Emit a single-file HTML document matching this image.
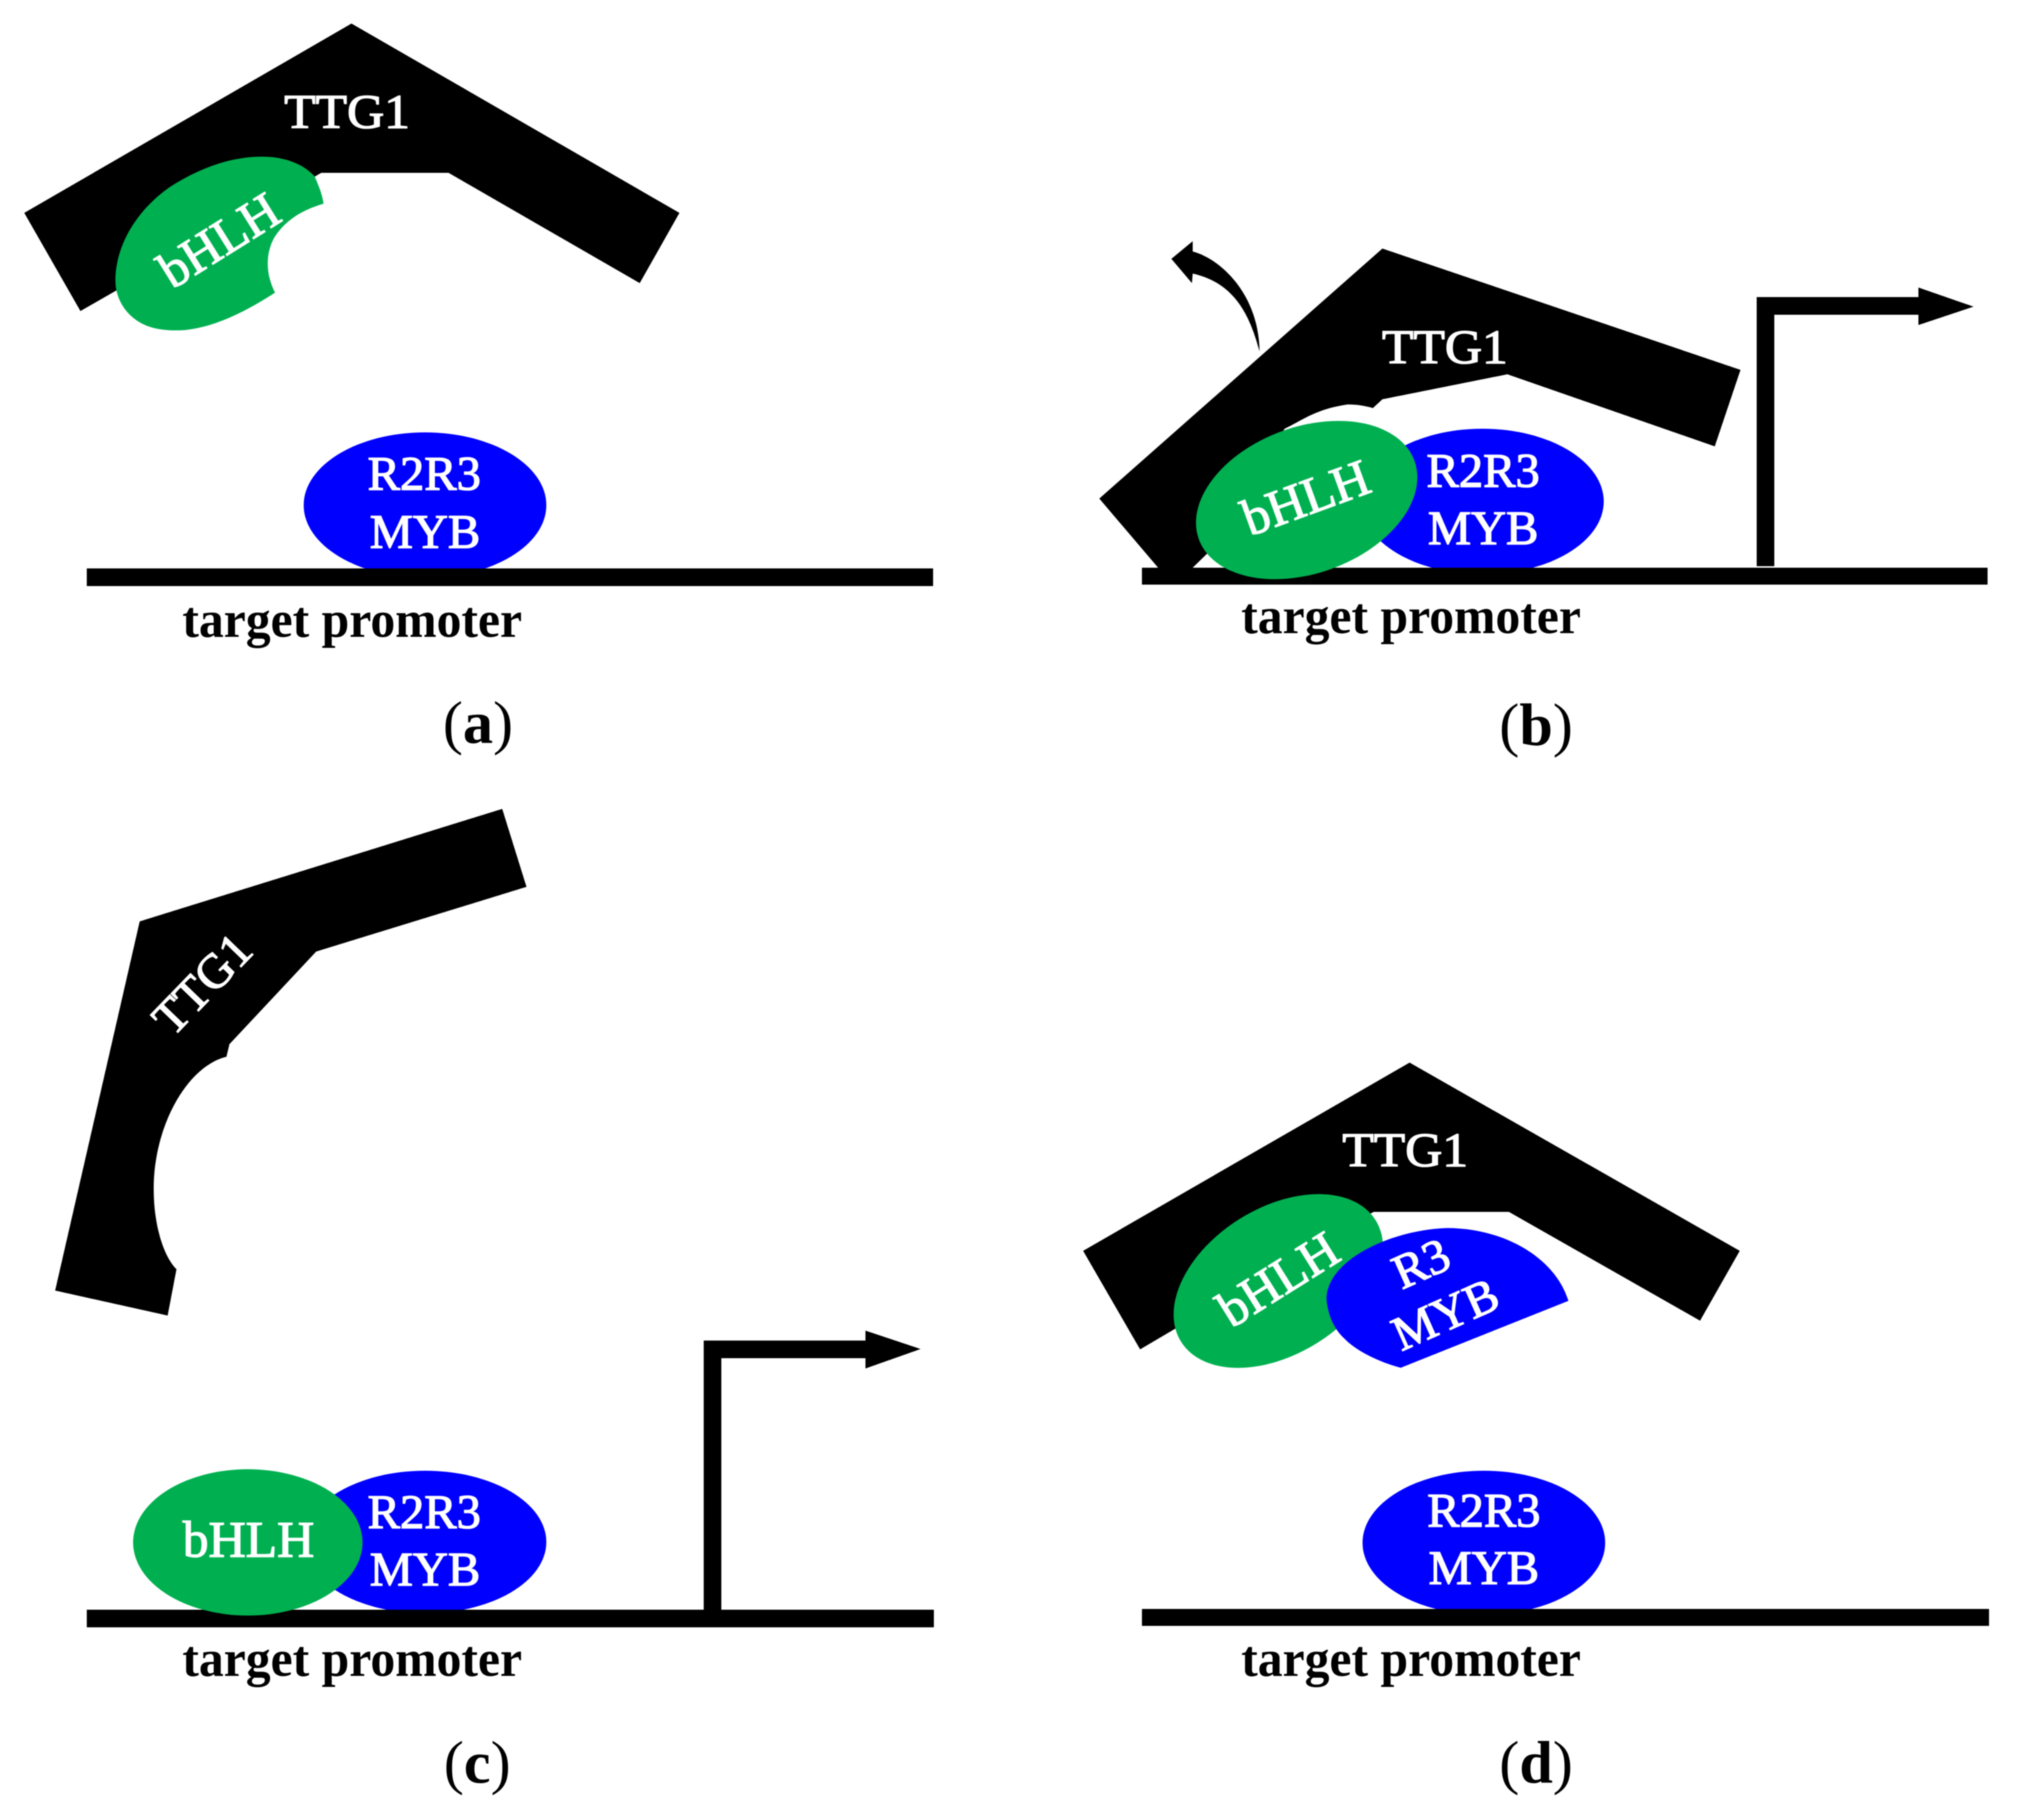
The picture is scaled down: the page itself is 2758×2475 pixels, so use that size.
<!DOCTYPE html>
<html>
<head>
<meta charset="utf-8">
<style>
html,body{margin:0;padding:0;background:#fff;width:2758px;height:2475px;overflow:hidden}
svg{display:block;filter:blur(0.7px)}
text{font-family:"Liberation Serif",serif}
.w{fill:#fff;stroke:#fff;stroke-width:1.6;text-anchor:middle}
.s{font-size:66px}
.m{font-size:66px}
.h{font-size:70px}
.t{font-size:70px;font-weight:bold;fill:#000;stroke:none}
.l{font-size:82px;fill:#000;text-anchor:middle}
.l tspan{font-weight:bold}
</style>
</head>
<body>
<svg width="2758" height="2475" viewBox="0 0 2758 2475" xmlns="http://www.w3.org/2000/svg">
<rect width="2758" height="2475" fill="#fff"/>

<!-- (a) -->
<polygon points="478,32 33,289.5 109.4,423 437,235 610,235 870,385 924,289.5" fill="#000"/>
<path d="M428,240 C412,222 385,213 357,213 C305,213 262,235 233,253 C190,282 157,330 157,382 C157,405 170,428 193,440 C210,449 232,450 250,449 C295,445 340,420 374,398 C361,372 361,345 373,323 C389,298 413,285 440,277 C438,263 433,252 428,240Z" fill="#00B050"/>
<ellipse cx="578" cy="687" rx="165" ry="99" fill="#0000FF"/>
<rect x="118" y="773" width="1151" height="24" fill="#000"/>
<text class="w s" x="472" y="174" textLength="171" lengthAdjust="spacingAndGlyphs">TTG1</text>
<text class="w h" transform="translate(298,327) rotate(-32)" y="23">bHLH</text>
<text class="w s" x="577" y="666">R2R3</text>
<text class="w s" x="578" y="745">MYB</text>
<text class="t" x="248" y="866" textLength="462" lengthAdjust="spacingAndGlyphs">target promoter</text>
<text class="l" x="650" y="1010">(<tspan>a</tspan>)</text>

<!-- (b) -->
<path d="M1593,352 L1622,328 L1622,342 C1660,352 1712,400 1713,478 C1700,430 1680,385 1622,372 L1621,385 Z" fill="#000"/>
<path d="M1880,338 L2367,503 L2332,607 L2050,509 L1880,543 L1867,555 C1858,552 1845,550 1833,550 C1790,556 1770,572 1747,583 L1660,735 L1622,772 L1575,772 L1495,678 Z" fill="#000"/>
<ellipse cx="2016" cy="682" rx="165" ry="99" fill="#0000FF"/>
<rect x="1553" y="772" width="1150" height="23" fill="#000"/>
<ellipse cx="1777" cy="680" rx="156" ry="99.5" transform="rotate(-20 1777 680)" fill="#00B050"/>
<rect x="2389" y="404" width="24" height="366" fill="#000"/>
<rect x="2389" y="404" width="221" height="24" fill="#000"/>
<polygon points="2609,391 2684,417 2609,442" fill="#000"/>
<text class="w s" x="1965" y="494" textLength="171" lengthAdjust="spacingAndGlyphs">TTG1</text>
<text class="w h" transform="translate(1776,677) rotate(-20)" y="23">bHLH</text>
<text class="w s" x="2017" y="662">R2R3</text>
<text class="w s" x="2017" y="740">MYB</text>
<text class="t" x="1688" y="861" textLength="462" lengthAdjust="spacingAndGlyphs">target promoter</text>
<text class="l" x="2089" y="1013">(<tspan>b</tspan>)</text>

<!-- (c) -->
<path d="M683,1100 L716,1206 L430,1294 L312,1420 L308,1437 C255,1450 209,1530 209,1617 C209,1665 222,1708 240,1726 L228,1789 L75,1755 L190,1253 Z" fill="#000"/>
<ellipse cx="578" cy="2097" rx="165" ry="97" fill="#0000FF"/>
<rect x="118" y="2189" width="1152" height="24" fill="#000"/>
<ellipse cx="337" cy="2097.5" rx="156" ry="99.5" fill="#00B050"/>
<rect x="957" y="1823" width="24" height="368" fill="#000"/>
<rect x="957" y="1823" width="221" height="24" fill="#000"/>
<polygon points="1177,1809.5 1252,1834.5 1177,1861" fill="#000"/>
<text class="w s" transform="translate(275,1338) rotate(-46)" y="22">TTG1</text>
<text class="w h" x="338" y="2117">bHLH</text>
<text class="w s" x="577" y="2078">R2R3</text>
<text class="w s" x="578" y="2156">MYB</text>
<text class="t" x="248" y="2279" textLength="462" lengthAdjust="spacingAndGlyphs">target promoter</text>
<text class="l" x="649" y="2424">(<tspan>c</tspan>)</text>

<!-- (d) -->
<polygon points="1917,1445 1473,1701 1550.5,1835 1868,1648 2052,1648 2312,1796 2366,1701" fill="#000"/>
<ellipse cx="1738.5" cy="1742" rx="156" ry="99.5" transform="rotate(-32 1738.5 1742)" fill="#00B050"/>
<path d="M2133,1769 C2115,1710 2045,1670 1968,1670 C1895,1672 1804,1712 1804,1767 C1806,1790 1815,1808 1828,1820 C1845,1838 1878,1853 1905,1860 Z" fill="#0000FF"/>
<ellipse cx="2018" cy="2098" rx="165" ry="98" fill="#0000FF"/>
<rect x="1553" y="2188" width="1152" height="23" fill="#000"/>
<text class="w s" x="1911" y="1586" textLength="171" lengthAdjust="spacingAndGlyphs">TTG1</text>
<text class="w h" transform="translate(1738.5,1740) rotate(-32)" y="23">bHLH</text>
<text class="w m" transform="translate(1933,1719) rotate(-24)" y="21">R3</text>
<text class="w m" transform="translate(1966,1788) rotate(-24)" y="21">MYB</text>
<text class="w s" x="2018" y="2076">R2R3</text>
<text class="w s" x="2018" y="2154">MYB</text>
<text class="t" x="1688" y="2279" textLength="462" lengthAdjust="spacingAndGlyphs">target promoter</text>
<text class="l" x="2089" y="2424">(<tspan>d</tspan>)</text>
</svg>
</body>
</html>
